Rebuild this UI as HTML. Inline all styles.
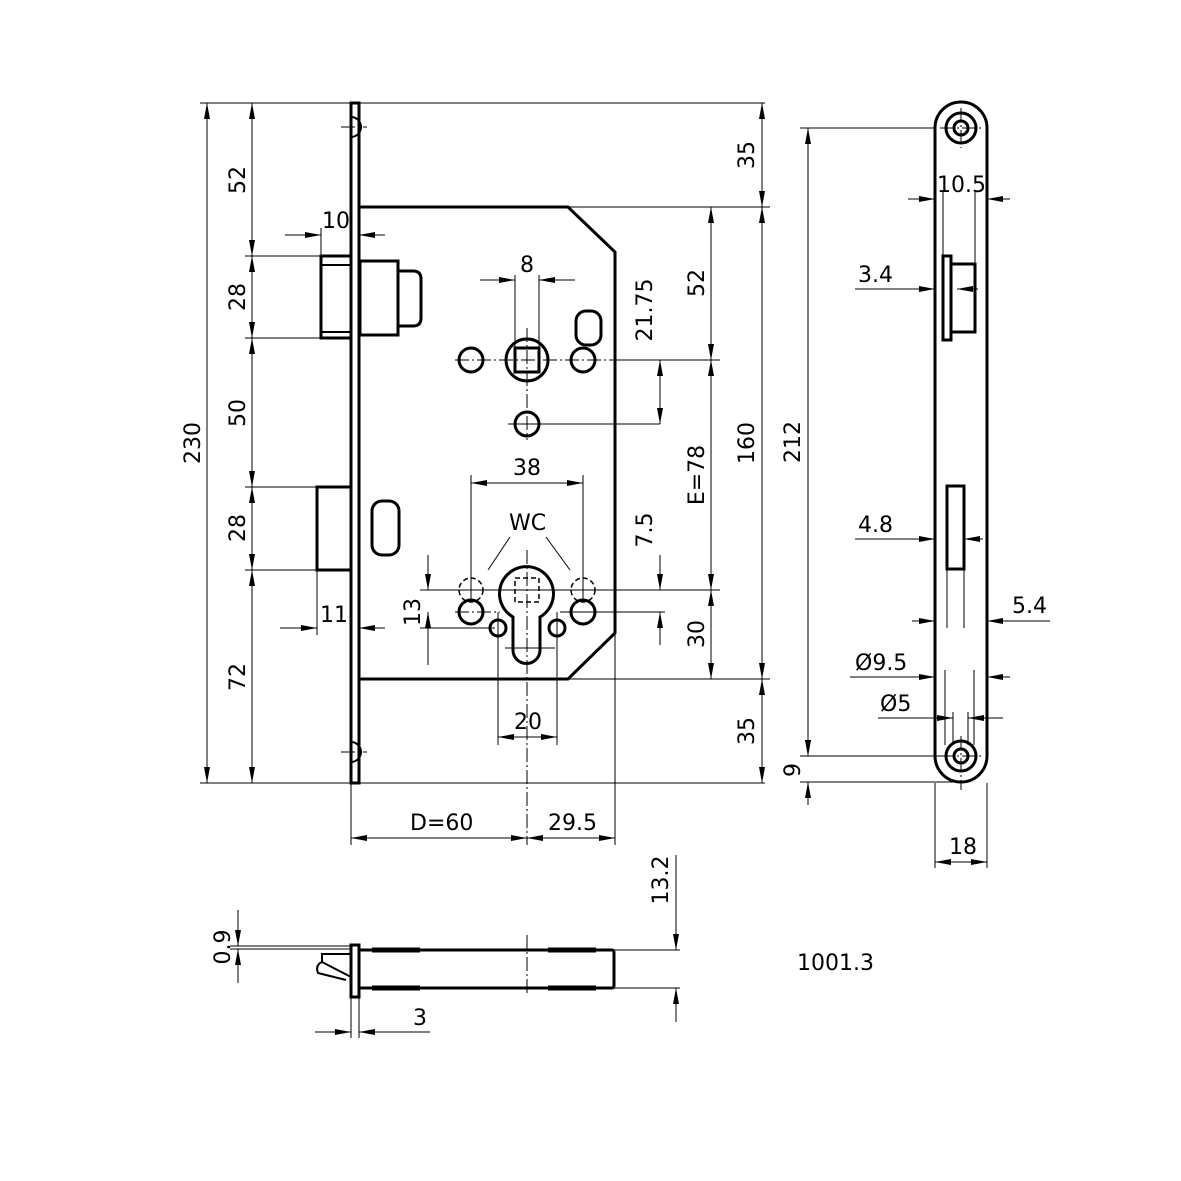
<!DOCTYPE html>
<html><head><meta charset="utf-8"><style>
html,body{margin:0;padding:0;background:#fff}
svg{display:block}
text{font-family:"DejaVu Sans","Liberation Sans",sans-serif;font-size:22px;fill:#000}
.t{stroke:#000;stroke-width:3;fill:none}
.m{stroke:#000;stroke-width:2;fill:none}
.d{stroke:#000;stroke-width:1;fill:none}
.c{stroke:#000;stroke-width:1;fill:none;stroke-dasharray:14 3 2 3}
.h{stroke:#000;stroke-width:1.5;fill:none;stroke-dasharray:5 3}
</style></head><body>
<svg width="1181" height="1181" viewBox="0 0 1181 1181" xmlns="http://www.w3.org/2000/svg">
<defs>
<marker id="a" viewBox="0 0 16 6" refX="16" refY="3" markerWidth="16" markerHeight="6" orient="auto-start-reverse" markerUnits="userSpaceOnUse"><path d="M0,0 L16,3 L0,6 z" fill="#000"/></marker>
</defs>

<!-- faceplate front -->
<rect x="351" y="103" width="8" height="680" class="t"/>
<path d="M351,117 A10,10 0 0 1 351,137" class="m"/>
<path d="M351,742 A10,10 0 0 1 351,762" class="m"/>
<line x1="341" y1="127" x2="367" y2="127" class="c"/>
<line x1="341" y1="752" x2="367" y2="752" class="c"/>

<!-- body -->
<path d="M360,207 L568,207 L615,252 L615,633 L568,679 L360,679" class="t"/>

<!-- latch -->
<rect x="321" y="256" width="30" height="82" class="t"/>
<line x1="321" y1="265" x2="351" y2="265" class="m"/>
<line x1="321" y1="332" x2="351" y2="332" class="m"/>
<rect x="360" y="261" width="38" height="74" class="t"/>
<path d="M398,271 L413,271 Q421,271 421,279 L421,318 Q421,326 413,326 L398,326" class="t"/>
<!-- deadbolt -->
<rect x="317" y="487" width="34" height="83" class="t"/>

<!-- slots -->
<rect x="372" y="501" width="27" height="54" rx="10" class="t"/>
<rect x="576" y="311" width="25" height="34" rx="10" class="t"/>

<!-- spindle -->
<circle cx="527" cy="360" r="21" class="t"/>
<rect x="515" y="348" width="24" height="24" class="t"/>
<circle cx="471" cy="360" r="12" class="t"/>
<circle cx="583" cy="360" r="12" class="t"/>
<circle cx="527" cy="424" r="12" class="t"/>
<line x1="455" y1="360" x2="615" y2="360" class="c"/>
<line x1="527" y1="328" x2="527" y2="440" class="c"/>
<line x1="508" y1="424" x2="660" y2="424" class="d"/>
<line x1="615" y1="360" x2="720" y2="360" class="d"/>

<!-- cylinder -->
<path d="M513,617 A27,27 0 1 1 540,617 L540,650 A13.5,13.5 0 0 1 513,650 Z" class="t"/>
<rect x="515" y="578" width="24" height="24" class="h"/>
<circle cx="471" cy="612" r="12" class="t"/>
<circle cx="583" cy="612" r="12" class="t"/>
<circle cx="471" cy="590" r="12" class="h"/>
<circle cx="583" cy="590" r="12" class="h"/>
<circle cx="498" cy="628" r="8" class="t"/>
<circle cx="557" cy="628" r="8" class="t"/>
<line x1="527" y1="550" x2="527" y2="845" class="c"/>
<line x1="455" y1="612" x2="500" y2="612" class="c"/>
<line x1="560" y1="612" x2="665" y2="612" class="d"/>
<line x1="420" y1="590" x2="720" y2="590" class="d"/>
<line x1="505" y1="648" x2="555" y2="648" class="d"/>
<line x1="498" y1="612" x2="498" y2="745" class="d"/>
<line x1="557" y1="612" x2="557" y2="745" class="d"/>
<line x1="471" y1="475" x2="471" y2="600" class="d"/>
<line x1="583" y1="475" x2="583" y2="600" class="d"/>
<line x1="510" y1="537" x2="488" y2="570" class="d"/>
<line x1="546" y1="537" x2="570" y2="570" class="d"/>
<text x="509" y="530">WC</text>

<!-- extension lines -->
<line x1="200" y1="103" x2="765" y2="103" class="d"/>
<line x1="200" y1="783" x2="765" y2="783" class="d"/>
<line x1="245" y1="256" x2="321" y2="256" class="d"/>
<line x1="245" y1="338" x2="321" y2="338" class="d"/>
<line x1="245" y1="487" x2="317" y2="487" class="d"/>
<line x1="245" y1="570" x2="317" y2="570" class="d"/>
<line x1="568" y1="207" x2="770" y2="207" class="d"/>
<line x1="568" y1="679" x2="770" y2="679" class="d"/>
<line x1="321" y1="228" x2="321" y2="256" class="d"/>
<line x1="317" y1="570" x2="317" y2="635" class="d"/>
<line x1="351" y1="783" x2="351" y2="845" class="d"/>
<line x1="615" y1="633" x2="615" y2="845" class="d"/>

<!-- left dims -->
<line x1="207" y1="103" x2="207" y2="783" class="d" marker-start="url(#a)" marker-end="url(#a)"/>
<text transform="translate(200,443) rotate(-90)" text-anchor="middle">230</text>
<line x1="252" y1="103" x2="252" y2="256" class="d" marker-start="url(#a)" marker-end="url(#a)"/>
<line x1="252" y1="256" x2="252" y2="338" class="d" marker-start="url(#a)" marker-end="url(#a)"/>
<line x1="252" y1="338" x2="252" y2="487" class="d" marker-start="url(#a)" marker-end="url(#a)"/>
<line x1="252" y1="487" x2="252" y2="570" class="d" marker-start="url(#a)" marker-end="url(#a)"/>
<line x1="252" y1="570" x2="252" y2="783" class="d" marker-start="url(#a)" marker-end="url(#a)"/>
<text transform="translate(245,180) rotate(-90)" text-anchor="middle">52</text>
<text transform="translate(245,297) rotate(-90)" text-anchor="middle">28</text>
<text transform="translate(245,413) rotate(-90)" text-anchor="middle">50</text>
<text transform="translate(245,528) rotate(-90)" text-anchor="middle">28</text>
<text transform="translate(245,677) rotate(-90)" text-anchor="middle">72</text>

<line x1="285" y1="235" x2="321" y2="235" class="d" marker-end="url(#a)"/>
<line x1="385" y1="235" x2="359" y2="235" class="d" marker-end="url(#a)"/>
<text x="322" y="228">10</text>
<line x1="280" y1="628" x2="317" y2="628" class="d" marker-end="url(#a)"/>
<line x1="385" y1="628" x2="359" y2="628" class="d" marker-end="url(#a)"/>
<text x="320" y="622">11</text>

<!-- 8 -->
<line x1="515" y1="275" x2="515" y2="348" class="d"/>
<line x1="539" y1="275" x2="539" y2="348" class="d"/>
<line x1="480" y1="280" x2="515" y2="280" class="d" marker-end="url(#a)"/>
<line x1="575" y1="280" x2="539" y2="280" class="d" marker-end="url(#a)"/>
<text x="520" y="272">8</text>
<!-- 38 -->
<line x1="471" y1="483" x2="583" y2="483" class="d" marker-start="url(#a)" marker-end="url(#a)"/>
<text x="513" y="475">38</text>
<!-- 13 -->
<line x1="428" y1="555" x2="428" y2="590" class="d" marker-end="url(#a)"/>
<line x1="428" y1="665" x2="428" y2="612" class="d" marker-end="url(#a)"/>
<line x1="420" y1="628" x2="495" y2="628" class="d"/>
<text transform="translate(420,612) rotate(-90)" text-anchor="middle">13</text>
<!-- 20 -->
<line x1="498" y1="737" x2="557" y2="737" class="d" marker-start="url(#a)" marker-end="url(#a)"/>
<text x="514" y="729">20</text>
<!-- D=60, 29.5 -->
<line x1="351" y1="838" x2="527" y2="838" class="d" marker-start="url(#a)" marker-end="url(#a)"/>
<line x1="527" y1="838" x2="615" y2="838" class="d" marker-start="url(#a)" marker-end="url(#a)"/>
<text x="410" y="830">D=60</text>
<text x="548" y="830">29.5</text>

<!-- right dims -->
<line x1="762" y1="103" x2="762" y2="207" class="d" marker-start="url(#a)" marker-end="url(#a)"/>
<line x1="762" y1="207" x2="762" y2="679" class="d" marker-start="url(#a)" marker-end="url(#a)"/>
<line x1="762" y1="679" x2="762" y2="783" class="d" marker-start="url(#a)" marker-end="url(#a)"/>
<text transform="translate(754,155) rotate(-90)" text-anchor="middle">35</text>
<text transform="translate(754,443) rotate(-90)" text-anchor="middle">160</text>
<text transform="translate(754,731) rotate(-90)" text-anchor="middle">35</text>
<line x1="711" y1="207" x2="711" y2="360" class="d" marker-start="url(#a)" marker-end="url(#a)"/>
<line x1="711" y1="360" x2="711" y2="590" class="d" marker-start="url(#a)" marker-end="url(#a)"/>
<line x1="711" y1="590" x2="711" y2="679" class="d" marker-start="url(#a)" marker-end="url(#a)"/>
<text transform="translate(704,283) rotate(-90)" text-anchor="middle">52</text>
<text transform="translate(704,475) rotate(-90)" text-anchor="middle">E=78</text>
<text transform="translate(704,634) rotate(-90)" text-anchor="middle">30</text>
<line x1="660" y1="360" x2="660" y2="424" class="d" marker-start="url(#a)" marker-end="url(#a)"/>
<text transform="translate(652,310) rotate(-90)" text-anchor="middle">21.75</text>
<line x1="660" y1="555" x2="660" y2="590" class="d" marker-end="url(#a)"/>
<line x1="660" y1="645" x2="660" y2="612" class="d" marker-end="url(#a)"/>
<text transform="translate(652,530) rotate(-90)" text-anchor="middle">7.5</text>

<!-- side view -->
<path d="M935,128 A26,26 0 0 1 987,128 L987,756 A26,26 0 0 1 935,756 Z" class="t"/>
<circle cx="961" cy="128" r="15" class="t"/><circle cx="961" cy="128" r="7" class="t"/>
<circle cx="961" cy="756" r="15" class="t"/><circle cx="961" cy="756" r="7" class="t"/>
<line x1="940" y1="128" x2="982" y2="128" class="c"/><line x1="961" y1="108" x2="961" y2="148" class="c"/>
<line x1="940" y1="756" x2="982" y2="756" class="c"/><line x1="961" y1="736" x2="961" y2="790" class="c"/>
<line x1="800" y1="128" x2="935" y2="128" class="d"/>
<line x1="800" y1="756" x2="948" y2="756" class="d"/>
<line x1="800" y1="782" x2="961" y2="782" class="d"/>
<rect x="943" y="256" width="8" height="84" class="t"/>
<rect x="951" y="264" width="24" height="68" class="t"/>
<rect x="947" y="486" width="17" height="83" class="t"/>
<line x1="808" y1="128" x2="808" y2="756" class="d" marker-start="url(#a)" marker-end="url(#a)"/>
<text transform="translate(800,442) rotate(-90)" text-anchor="middle">212</text>
<line x1="808" y1="735" x2="808" y2="756" class="d" marker-end="url(#a)"/>
<line x1="808" y1="805" x2="808" y2="782" class="d" marker-end="url(#a)"/>
<text transform="translate(800,770) rotate(-90)" text-anchor="middle">9</text>
<line x1="935" y1="783" x2="935" y2="868" class="d"/>
<line x1="987" y1="783" x2="987" y2="868" class="d"/>
<line x1="935" y1="862" x2="987" y2="862" class="d" marker-start="url(#a)" marker-end="url(#a)"/>
<text x="949" y="854">18</text>
<!-- 10.5 -->
<line x1="943" y1="192" x2="943" y2="256" class="d"/>
<line x1="975" y1="192" x2="975" y2="264" class="d"/>
<line x1="908" y1="199" x2="935" y2="199" class="d" marker-end="url(#a)"/>
<line x1="1010" y1="199" x2="987" y2="199" class="d" marker-end="url(#a)"/>
<text x="937" y="192">10.5</text>
<!-- 3.4 -->
<line x1="855" y1="289" x2="935" y2="289" class="d" marker-end="url(#a)"/>
<line x1="978" y1="289" x2="957" y2="289" class="d" marker-end="url(#a)"/>
<text x="858" y="282">3.4</text>
<!-- 4.8 -->
<line x1="855" y1="539" x2="935" y2="539" class="d" marker-end="url(#a)"/>
<line x1="983" y1="539" x2="964" y2="539" class="d" marker-end="url(#a)"/>
<text x="858" y="532">4.8</text>
<!-- 5.4 -->
<line x1="947" y1="569" x2="947" y2="628" class="d"/>
<line x1="964" y1="569" x2="964" y2="628" class="d"/>
<line x1="912" y1="621" x2="935" y2="621" class="d" marker-end="url(#a)"/>
<line x1="1050" y1="621" x2="987" y2="621" class="d" marker-end="url(#a)"/>
<text x="1012" y="613">5.4</text>
<!-- Ø9.5 -->
<line x1="945" y1="670" x2="945" y2="745" class="d"/>
<line x1="974" y1="670" x2="974" y2="745" class="d"/>
<line x1="850" y1="677" x2="935" y2="677" class="d" marker-end="url(#a)"/>
<line x1="1010" y1="677" x2="987" y2="677" class="d" marker-end="url(#a)"/>
<text x="855" y="670">Ø9.5</text>
<line x1="953" y1="712" x2="953" y2="745" class="d"/>
<line x1="968" y1="712" x2="968" y2="745" class="d"/>
<line x1="878" y1="718" x2="953" y2="718" class="d" marker-end="url(#a)"/>
<line x1="1003" y1="718" x2="968" y2="718" class="d" marker-end="url(#a)"/>
<text x="880" y="711">Ø5</text>

<!-- bottom view -->
<rect x="351" y="945" width="8" height="52" class="t"/>
<path d="M359,950 L612,950 Q614,950 614,953 L614,985 Q614,988 612,988 L359,988" class="t"/>
<path d="M372,950 L420,950 M548,950 L596,950 M372,988 L420,988 M548,988 L596,988" stroke="#000" stroke-width="5"/>
<path d="M351,954 L322,954 L322,962 Q315,965 318,973 L346,980 M322,962 L351,977" class="m"/>
<line x1="527" y1="935" x2="527" y2="993" class="c"/>
<line x1="230" y1="946" x2="351" y2="946" class="d"/>
<line x1="230" y1="949" x2="351" y2="949" class="d"/>
<line x1="238" y1="910" x2="238" y2="946" class="d" marker-end="url(#a)"/>
<line x1="238" y1="983" x2="238" y2="949" class="d" marker-end="url(#a)"/>
<text transform="translate(230,947) rotate(-90)" text-anchor="middle" font-size="20">0.9</text>
<line x1="614" y1="950" x2="680" y2="950" class="d"/>
<line x1="614" y1="988" x2="680" y2="988" class="d"/>
<line x1="676" y1="855" x2="676" y2="950" class="d" marker-end="url(#a)"/>
<line x1="676" y1="1022" x2="676" y2="988" class="d" marker-end="url(#a)"/>
<text transform="translate(668,880) rotate(-90)" text-anchor="middle">13.2</text>
<line x1="351" y1="997" x2="351" y2="1038" class="d"/>
<line x1="359" y1="997" x2="359" y2="1038" class="d"/>
<line x1="315" y1="1032" x2="351" y2="1032" class="d" marker-end="url(#a)"/>
<line x1="430" y1="1032" x2="359" y2="1032" class="d" marker-end="url(#a)"/>
<text x="413" y="1025">3</text>

<text x="797" y="970">1001.3</text>
</svg>
</body></html>
